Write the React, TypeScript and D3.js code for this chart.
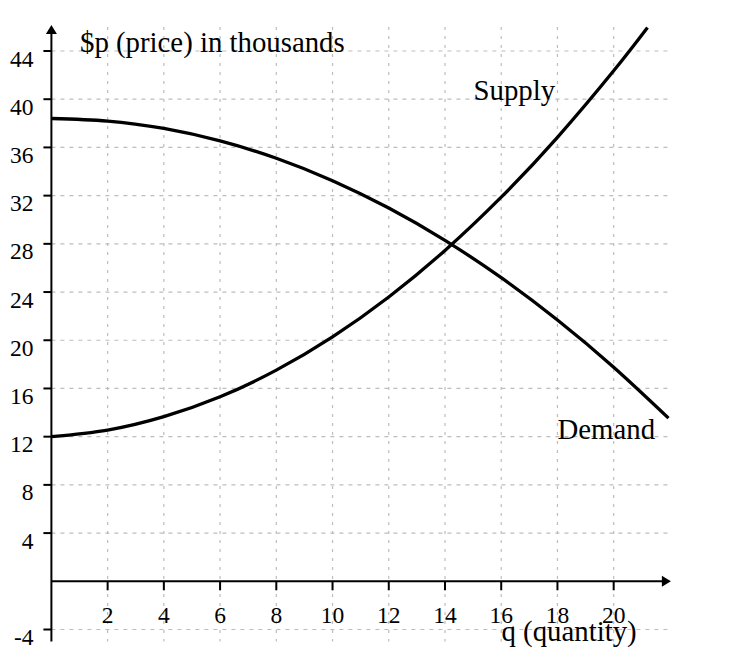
import React from "react";
import * as d3 from "d3";

const W = 748;
const H = 664;

// Data
const supplyQ = [0, 2, 4, 6, 8, 10, 12, 14, 16, 18, 20, 21.2];
const supplyP = [12, 12.55, 13.66, 15.31, 17.52, 20.28, 23.59, 27.45, 31.87, 36.84, 42.36, 45.94];
const demandQ = [0, 2, 4, 6, 8, 10, 12, 14, 16, 18, 20, 21.95];
const demandP = [38.4, 38.19, 37.57, 36.54, 35.1, 33.24, 30.97, 28.29, 25.19, 21.68, 17.76, 13.54];
const xTicks = [2, 4, 6, 8, 10, 12, 14, 16, 18, 20];
const yTicks = [-4, 4, 8, 12, 16, 20, 24, 28, 32, 36, 40, 44];
const yGrid = [-4, 4, 8, 12, 16, 20, 24, 28, 32, 36, 40, 44];
const xGrid = [2, 4, 6, 8, 10, 12, 14, 16, 18, 20];

const FONT = "Liberation Serif, Times New Roman, serif";

export default function App() {
  const x = d3.scaleLinear().domain([0, 22]).range([51.4, 669.9]);
  const y = d3.scaleLinear().domain([0, 44]).range([581.3, 51.0]);

  const line = d3
    .line<[number, number]>()
    .x((d) => x(d[0]))
    .y((d) => y(d[1]))
    .curve(d3.curveNatural);

  const supply = line(supplyQ.map((q, i) => [q, supplyP[i]]));
  const demand = line(demandQ.map((q, i) => [q, demandP[i]]));

  const x0 = x(0);
  const y0 = y(0);
  const xEnd = x(22);
  const yBottom = y(-5);
  const yTop = y(46);

  const tStyle = { fontFamily: FONT, fontSize: "23.5px" };
  const lStyle = { fontFamily: FONT, fontSize: "28.8px" };

  return (
    <svg
      width={W}
      height={H}
      style={{ position: "absolute", left: 0, top: 0, background: "#fff" }}
    >
      <rect x={0} y={0} width={W} height={H} fill="#fff" />
      {/* grid */}
      <g stroke="#bdbdbd" strokeWidth={1.2}>
        {yGrid.map((v) => (
          <line key={"h" + v} x1={x0} x2={xEnd} y1={y(v)} y2={y(v)} strokeDasharray="4 5" />
        ))}
        {xGrid.map((v) => (
          <line key={"v" + v} x1={x(v)} x2={x(v)} y1={yTop} y2={yBottom} strokeDasharray="3 6" />
        ))}
      </g>
      {/* axes */}
      <g stroke="#000" strokeWidth={2}>
        <line x1={x0} x2={xEnd - 6} y1={y0} y2={y0} />
        <line x1={x0} x2={x0} y1={yBottom} y2={yTop + 6} />
        {yTicks.map((v) => (
          <line key={"yt" + v} x1={x0 - 8} x2={x0} y1={y(v)} y2={y(v)} />
        ))}
        {xTicks.map((v) => (
          <line key={"xt" + v} x1={x(v)} x2={x(v)} y1={y0} y2={y0 + 9} />
        ))}
      </g>
      <path d={`M${xEnd + 1},${y0} L${xEnd - 8},${y0 - 5.5} L${xEnd - 8},${y0 + 5.5} Z`} fill="#000" />
      <path d={`M${x0},${yTop - 2} L${x0 - 5.5},${yTop + 7} L${x0 + 5.5},${yTop + 7} Z`} fill="#000" />
      {/* tick labels */}
      {yTicks.map((v) => (
        <text key={"yl" + v} x={33.5} y={y(v) + 15.5} textAnchor="end" style={tStyle} fill="#000">
          {v}
        </text>
      ))}
      {xTicks.map((v) => (
        <text key={"xl" + v} x={x(v)} y={y0 + 42} textAnchor="middle" style={tStyle} fill="#000">
          {v}
        </text>
      ))}
      {/* curves */}
      <path d={supply || ""} fill="none" stroke="#000" strokeWidth={3.3} />
      <path d={demand || ""} fill="none" stroke="#000" strokeWidth={3.3} />
      {/* labels */}
      <text x={80} y={52} style={lStyle} fill="#000">$p (price) in thousands</text>
      <text x={473.5} y={100} style={lStyle} fill="#000">Supply</text>
      <text x={557.5} y={438.5} style={lStyle} fill="#000">Demand</text>
      <text x={501.5} y={641} style={lStyle} fill="#000">q (quantity)</text>
    </svg>
  );
}
